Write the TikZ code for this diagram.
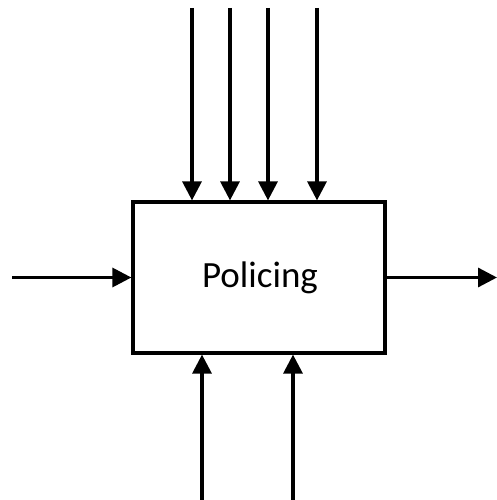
\documentclass[tikz,border=0pt]{standalone}
\usepackage{fontspec}
\setmainfont{Carlito}
\usetikzlibrary{arrows.meta}
\begin{document}
\begin{tikzpicture}[x=1pt,y=-1pt,
  wire/.style={line width=3.2pt,-{Triangle[length=19pt,width=19pt]}},
  procbox/.style={draw,line width=3.2pt,minimum width=252pt,minimum height=151pt,inner sep=0pt}]
  \useasboundingbox (0,0) rectangle (497,500);
  % process box
  \node[procbox] (proc) at (259,277.5) {};
  \node[font=\fontsize{37}{40}\selectfont] (lbl) at (260,277.5) {Policing};
  % control inputs from above
  \coordinate (c1) at (192,8);
  \coordinate (c2) at (230,8);
  \coordinate (c3) at (268,8);
  \coordinate (c4) at (317,8);
  \foreach \c in {c1,c2,c3,c4}
    \draw[wire] (\c) -- (\c |- proc.north);
  % input and output
  \coordinate (in) at (12,277.5);
  \coordinate (out) at (497,277.5);
  \draw[wire] (in) -- (proc.west);
  \draw[wire] (proc.east) -- (out);
  % mechanisms from below
  \coordinate (m1) at (202,500);
  \coordinate (m2) at (293,500);
  \foreach \m in {m1,m2}
    \draw[wire] (\m) -- (\m |- proc.south);
\end{tikzpicture}
\end{document}
